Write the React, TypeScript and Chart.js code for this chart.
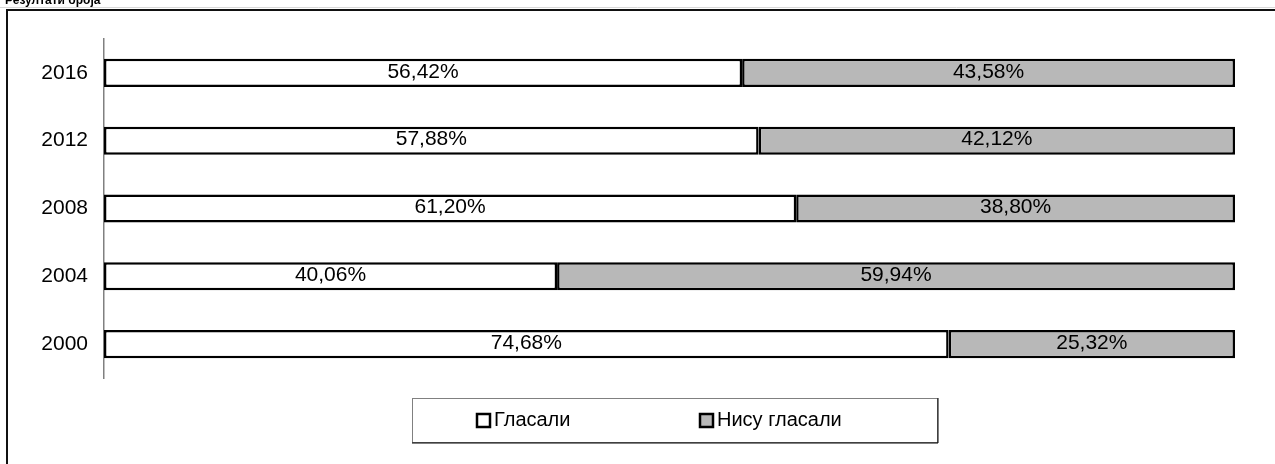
import React, { useEffect, useRef } from "react";
import { Chart, registerables } from "chart.js";

Chart.register(...registerables);

const titleText = "Резултати броја";
const categories = ["2016", "2012", "2008", "2004", "2000"];
const seriesNames = ["Гласали", "Нису гласали"];
const voted = [56.42, 57.88, 61.2, 40.06, 74.68];
const notVoted = [43.58, 42.12, 38.8, 59.94, 25.32];
const fillColors = ["#ffffff", "#b8b8b8"];

const FONT = "Arial, 'Liberation Sans', sans-serif";

const fmt = (v: number) => v.toFixed(2).replace(".", ",") + "%";

const decorPlugin = {
  id: "decor",
  beforeDraw(chart: any) {
    const ctx = chart.ctx;
    ctx.save();
    ctx.fillStyle = "#ffffff";
    ctx.fillRect(0, 0, chart.width, chart.height);
    // title (partially cut off at the top)
    ctx.fillStyle = "#000";
    ctx.font = `bold 12px ${FONT}`;
    ctx.textBaseline = "alphabetic";
    ctx.textAlign = "left";
    ctx.fillText(titleText, 5, 4);
    // outer frame
    ctx.strokeStyle = "#d8d8d8";
    ctx.lineWidth = 1;
    ctx.beginPath();
    ctx.moveTo(0, 7.5);
    ctx.lineTo(chart.width, 7.5);
    ctx.stroke();
    ctx.strokeStyle = "#111";
    ctx.lineWidth = 2;
    ctx.beginPath();
    ctx.moveTo(7, chart.height);
    ctx.lineTo(7, 10);
    ctx.lineTo(chart.width, 10);
    ctx.stroke();
    ctx.restore();
  },
  afterDatasetsDraw(chart: any) {
    const ctx = chart.ctx;
    ctx.save();
    ctx.fillStyle = "#000";
    ctx.font = `21px ${FONT}`;
    ctx.textAlign = "center";
    ctx.textBaseline = "middle";
    chart.data.datasets.forEach((ds: any, i: number) => {
      const meta = chart.getDatasetMeta(i);
      meta.data.forEach((el: any, j: number) => {
        const cx = (el.x + el.base) / 2;
        ctx.fillText(fmt(ds.data[j]), cx, el.y - 1);
      });
    });
    ctx.restore();
  },
  afterDraw(chart: any) {
    const ctx = chart.ctx;
    const area = chart.chartArea;
    ctx.save();
    // legend box
    const bw = 525;
    const bh = 44;
    const bx = Math.round((area.left + area.right) / 2 - bw / 2 + 5);
    const by = area.bottom + 20;
    ctx.strokeStyle = "#808080";
    ctx.lineWidth = 1;
    ctx.strokeRect(bx + 0.5, by + 0.5, bw, bh);
    ctx.strokeStyle = "#000";
    ctx.beginPath();
    ctx.moveTo(bx, by + bh + 1);
    ctx.lineTo(bx + bw + 1, by + bh + 1);
    ctx.lineTo(bx + bw + 1, by);
    ctx.stroke();
    const itemX = [bx + 65, bx + 288];
    const cy = by + 22;
    ctx.font = `20px ${FONT}`;
    ctx.textBaseline = "middle";
    ctx.textAlign = "left";
    chart.data.datasets.forEach((ds: any, i: number) => {
      const x = itemX[i];
      ctx.fillStyle = ds.backgroundColor;
      ctx.fillRect(x, cy - 6, 13, 13);
      ctx.strokeStyle = "#000";
      ctx.lineWidth = 2.5;
      ctx.strokeRect(x, cy - 6, 13, 13);
      ctx.fillStyle = "#000";
      ctx.fillText(ds.label, x + 17, cy);
    });
    ctx.restore();
  },
};

export default function App() {
  const ref = useRef<HTMLCanvasElement | null>(null);
  useEffect(() => {
    if (!ref.current) return;
    const chart = new Chart(ref.current, {
      type: "bar",
      data: {
        labels: categories,
        datasets: [
          {
            label: seriesNames[0],
            data: voted,
            backgroundColor: fillColors[0],
            borderColor: "#000",
            borderWidth: 2.5,
            borderSkipped: false,
            barPercentage: 0.83,
            categoryPercentage: 0.5,
          },
          {
            label: seriesNames[1],
            data: notVoted,
            backgroundColor: fillColors[1],
            borderColor: "#000",
            borderWidth: 2.5,
            borderSkipped: false,
            barPercentage: 0.83,
            categoryPercentage: 0.5,
          },
        ],
      },
      options: {
        indexAxis: "y",
        responsive: false,
        animation: false,
        layout: { padding: { left: 0, right: 40, top: 39, bottom: 86 } },
        plugins: {
          legend: { display: false },
          tooltip: { enabled: false },
          title: { display: false },
        },
        scales: {
          x: {
            stacked: true,
            display: false,
            min: 0,
            max: 100,
          },
          y: {
            stacked: true,
            afterFit: (scale: any) => {
              scale.width = 104;
            },
            grid: { display: false, drawTicks: false },
            border: { display: true, color: "#808080", width: 1.5 },
            ticks: {
              color: "#000",
              padding: 16,
              font: { family: FONT, size: 21 },
            },
          },
        },
      },
      plugins: [decorPlugin],
    });
    return () => chart.destroy();
  }, []);
  return (
    <div style={{ position: "absolute", left: 0, top: 0, width: 1275, height: 464 }}>
      <canvas ref={ref} width={1275} height={464} style={{ display: "block" }} />
    </div>
  );
}
